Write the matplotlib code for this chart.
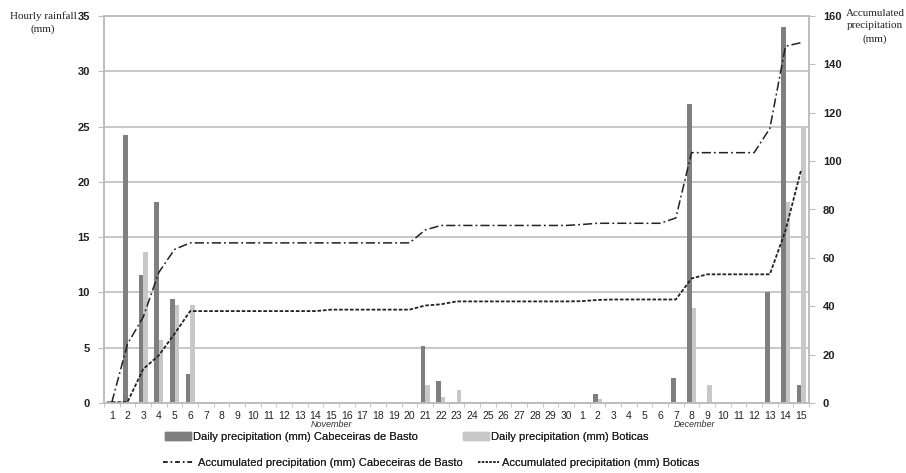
import numpy as np
import matplotlib
matplotlib.use("Agg")
import matplotlib.pyplot as plt
from matplotlib.patches import Patch
from matplotlib.lines import Line2D

# dias: novembro 1-30 + dezembro 1-15
days = list(range(1, 31)) + list(range(1, 16))

# precipitacao diaria (mm)
cab_daily = [0.2, 24.2, 11.6, 18.2, 9.4, 2.6] + [0]*14 + [5.2, 2.0] + [0]*8 \
    + [0, 0.8, 0, 0, 0, 0, 2.3, 27.0, 0, 0, 0, 0, 10.0, 34.0, 1.6]
bot_daily = [0.2, 0, 13.7, 5.7, 8.9, 8.9] + [0]*8 + [0.1] + [0]*5 + [1.6, 0.5, 1.2] + [0]*7 \
    + [0, 0.4, 0.1, 0, 0, 0, 0, 8.6, 1.6, 0, 0, 0, 0, 18.2, 25.0]

# precipitacao acumulada (mm)
cab_acc = [0.3, 24.4, 35.5, 54.0, 63.5, 66.2] + [66.2]*14 + [71.5, 73.4] + [73.4]*8 \
    + [73.8, 74.3, 74.3, 74.3, 74.3, 74.3, 76.5, 103.5, 103.5, 103.5, 103.5, 103.5, 113.5, 147.5, 149.0]
bot_acc = [0.3, 0.4, 14.0, 19.7, 28.6, 38.0] + [38.0]*8 + [38.6]*6 + [40.3, 40.8, 42.0] + [42.0]*7 \
    + [42.1, 42.6, 42.8, 42.8, 42.8, 42.8, 42.8, 51.5, 53.2, 53.2, 53.2, 53.2, 53.2, 71.3, 96.5]

dark = "#7f7f7f"
light = "#c8c8c8"
grid_c = "#bdbdbd"
sans = "Liberation Sans"
serif = "Liberation Serif"

fig = plt.figure(figsize=(9.06, 4.73), dpi=100)
ax = fig.add_axes([104/906, 1-403/473, (809-104)/906, (403-16)/473])

x = np.arange(len(days))
ax.bar(x-0.14, cab_daily, 0.28, color=dark, zorder=2)
ax.bar(x+0.14, bot_daily, 0.28, color=light, zorder=2)
ax.set_xlim(-0.5, len(days)-0.5)
ax.set_ylim(0, 35)
ax.set_yticks(range(0, 36, 5))
ax.yaxis.grid(True, color=grid_c, lw=1.2)
ax.set_axisbelow(True)

ax.set_xticks(x)
ax.set_xticklabels([str(d) for d in days], fontsize=7.5, family=sans, color="#222")
ax.set_xticks(np.arange(-0.5, len(days), 1), minor=True)
ax.tick_params(axis="x", which="major", length=0, pad=6)
ax.tick_params(axis="x", which="minor", length=3, color=grid_c, direction="out")
ax.tick_params(axis="y", length=4, color=grid_c, pad=6)
for t in ax.get_yticklabels():
    t.set_fontweight("bold"); t.set_fontsize(8); t.set_family(sans); t.set_color("#222")

ax2 = ax.twinx()
ax2.set_ylim(0, 160)
ax2.set_yticks(range(0, 161, 20))
ax2.tick_params(axis="y", length=4, color=grid_c, pad=6)
for t in ax2.get_yticklabels():
    t.set_fontweight("bold"); t.set_fontsize(8); t.set_family(sans); t.set_color("#222")

ax2.plot(x, cab_acc, color="#222", lw=1.1, dashes=(6, 2, 1.2, 2))
ax2.plot(x, bot_acc, color="#222", lw=1.3, dashes=(2, 1))

for a in (ax, ax2):
    for s in a.spines.values():
        s.set_color(grid_c)
        s.set_linewidth(1.2)

fig.text(43/906, 1-11/473, "Hourly rainfall\n(mm)", ha="center", va="top",
         family=serif, fontsize=8, color="#222", linespacing=1.55)
fig.text(875/906, 1-9/473, "Accumulated\nprecipitation\n(mm)", ha="center", va="top",
         family=serif, fontsize=8, color="#222", linespacing=1.5)
fig.text(331/906, 1-424/473, "November", ha="center", va="center",
         family=sans, style="italic", fontsize=6.5, color="#333")
fig.text(694/906, 1-424/473, "December", ha="center", va="center",
         family=sans, style="italic", fontsize=6.5, color="#333")

# legenda: quatro entradas posicionadas como no original
entries = [
    (Patch(color=dark), "Daily precipitation (mm) Cabeceiras de Basto", 165, 437, 2.3),
    (Patch(color=light), "Daily precipitation (mm) Boticas", 463, 437, 2.3),
    (Line2D([], [], color="#222", lw=1.1, dashes=(3, 2, 1, 2)),
     "Accumulated precipitation (mm) Cabeceiras de Basto", 163, 463, 2.9),
    (Line2D([], [], color="#222", lw=1.1, dashes=(1.5, 1)),
     "Accumulated precipitation (mm) Boticas", 478, 463, 1.9),
]
for h, lab, px, py, hl in entries:
    leg = fig.legend([h], [lab], loc="center left", bbox_to_anchor=(px/906, 1-py/473),
                     bbox_transform=fig.transFigure, frameon=False, borderpad=0,
                     borderaxespad=0, handlelength=hl, handletextpad=0.25,
                     prop={"family": sans, "size": 8})
    for t in leg.get_texts():
        t.set_color("#222")
    fig.add_artist(leg)

fig.savefig("out.png", dpi=100)
